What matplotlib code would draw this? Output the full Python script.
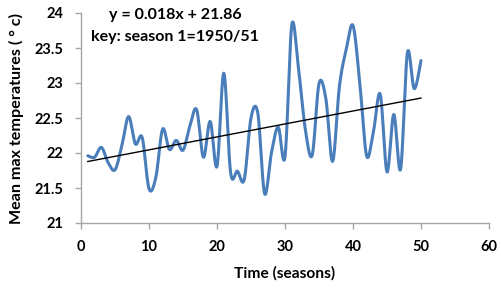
import numpy as np
import matplotlib
matplotlib.use("Agg")
import matplotlib.pyplot as plt

seasons = list(range(1, 51))
temps = [21.96, 21.94, 22.08, 21.86, 21.76, 22.10, 22.52, 22.13, 22.22, 21.49,
         21.65, 22.34, 22.05, 22.18, 22.04, 22.38, 22.62, 21.94, 22.45, 21.81,
         23.14, 21.72, 21.74, 21.62, 22.50, 22.57, 21.42, 22.00, 22.37, 21.95,
         23.83, 23.19, 22.33, 21.97, 22.99, 22.78, 21.88, 22.95, 23.48, 23.82,
         23.00, 21.96, 22.30, 22.84, 21.73, 22.55, 21.77, 23.43, 22.92, 23.32]
slope = 0.0185
intercept = 21.86
eq_text = "y = 0.018x + 21.86"
key_text = "key: season 1=1950/51"
xticks = [0, 10, 20, 30, 40, 50, 60]
yticks = [21, 21.5, 22, 22.5, 23, 23.5, 24]
ytick_labels = ["21", "21.5", "22", "22.5", "23", "23.5", "24"]


def smooth(xs, ys, n=30):
    xs = np.asarray(xs, float)
    ys = np.asarray(ys, float)
    P = np.column_stack([xs, ys])
    out = []
    for i in range(len(P) - 1):
        p0 = P[i - 1] if i > 0 else P[i]
        p1 = P[i]
        p2 = P[i + 1]
        p3 = P[i + 2] if i + 2 < len(P) else P[i + 1]
        c1 = p1 + (p2 - p0) / 6.0
        c2 = p2 - (p3 - p1) / 6.0
        t = np.linspace(0, 1, n, endpoint=(i == len(P) - 2))[:, None]
        seg = ((1 - t) ** 3) * p1 + 3 * ((1 - t) ** 2) * t * c1 + 3 * (1 - t) * t ** 2 * c2 + t ** 3 * p2
        out.append(seg)
    out = np.vstack(out)
    return out[:, 0], out[:, 1]


plt.rcParams['font.family'] = ['Lato', 'DejaVu Sans']

fig = plt.figure(figsize=(5.01, 2.96), dpi=100)
ax = fig.add_axes([81 / 501, 1 - 223 / 296, 408 / 501, 210 / 296])

sx, sy = smooth(seasons, temps)
ax.plot(sx, sy, color='#4A7EBB', lw=2.2, solid_capstyle='round')
tx = np.array([seasons[0], seasons[-1]], float)
ax.plot(tx, slope * tx + intercept, color='black', lw=1.0)

ax.set_xlim(0, 60)
ax.set_ylim(21, 24)
ax.set_xticks(xticks)
ax.set_yticks(yticks)
ax.set_yticklabels(ytick_labels)
for s in ['top', 'right']:
    ax.spines[s].set_visible(False)
for s in ['left', 'bottom']:
    ax.spines[s].set_color('#A6A6A6')
    ax.spines[s].set_linewidth(1.0)
ax.tick_params(axis='both', direction='out', length=4, width=1, color='#A6A6A6',
               labelsize=10.5, labelcolor='black')
ax.tick_params(axis='y', pad=9)
ax.tick_params(axis='x', pad=8)
for lab in ax.get_xticklabels() + ax.get_yticklabels():
    lab.set_fontweight('bold')

ax.set_xlabel("Time (seasons)", fontsize=11.2, fontweight='bold', labelpad=9)
ax.set_ylabel("Mean max temperatures ( \u00b0 c)", fontsize=11.6, fontweight='bold', labelpad=7)

fig.text(175 / 501, 1 - 15 / 296, eq_text, ha='center', va='center',
         fontsize=11.5, fontweight='bold')
fig.text(175 / 501, 1 - 37 / 296, key_text, ha='center', va='center',
         fontsize=11.5, fontweight='bold')

fig.savefig("out.png", dpi=100)
